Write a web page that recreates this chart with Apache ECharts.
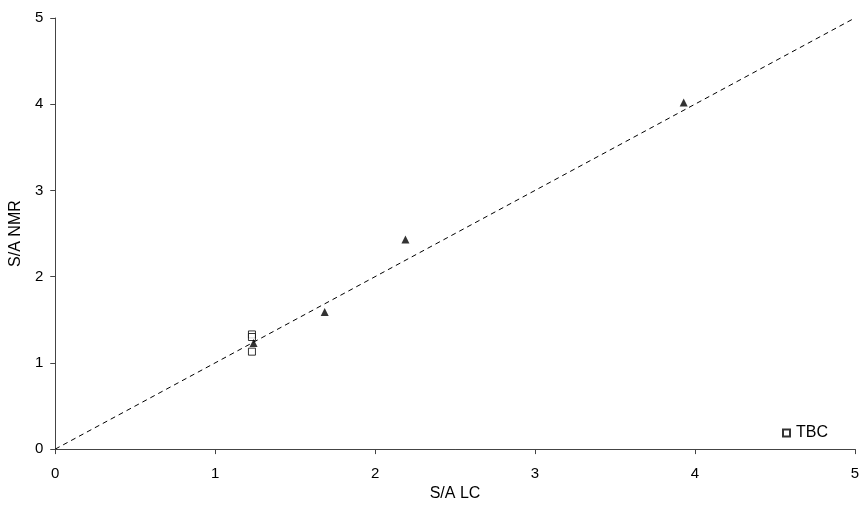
<!DOCTYPE html>
<html>
<head>
<meta charset="utf-8">
<script src="https://cdn.jsdelivr.net/npm/echarts@6/dist/echarts.min.js"></script>
<style>html,body{margin:0;padding:0;background:#fff}#c{width:862px;height:507px}</style>
</head>
<body>
<div id="c"></div>
<script>
var xTicks = [0, 1, 2, 3, 4, 5];
var yTicks = [0, 1, 2, 3, 4, 5];
var tbcX = [1.23, 1.23, 1.23];
var tbcY = [1.33, 1.30, 1.13];
var triX = [1.24, 1.685, 2.19, 3.93];
var triY = [1.23, 1.59, 2.43, 4.02];
var lineX = [0, 5];
var lineY = [0, 5];

function pairs(a, b) { return a.map(function (v, i) { return [v, b[i]]; }); }

var chart = echarts.init(document.getElementById('c'));
var font = 'Liberation Sans, Arial, sans-serif';
chart.setOption({
  animation: false,
  backgroundColor: '#fff',
  grid: { left: 54, right: 5, top: 18, bottom: 47, containLabel: false },
  legend: {
    data: [{ name: 'TBC', icon: 'rect' }],
    left: 777, top: 420,
    itemWidth: 7, itemHeight: 7, itemGap: 5,
    textStyle: { fontFamily: font, fontSize: 16, color: '#000', padding: [0, 0, 0, 1] }
  },
  xAxis: {
    type: 'value', min: xTicks[0], max: xTicks[xTicks.length - 1], interval: 1,
    name: 'S/A LC', nameLocation: 'middle', nameGap: 32,
    nameTextStyle: { fontFamily: font, fontSize: 16, color: '#000' },
    axisLine: { lineStyle: { color: '#444', width: 1 } },
    axisTick: { show: true, inside: false, length: 5, lineStyle: { color: '#444' } },
    axisLabel: { fontFamily: font, fontSize: 15, color: '#000', margin: 17 },
    splitLine: { show: false }
  },
  yAxis: {
    type: 'value', min: yTicks[0], max: yTicks[yTicks.length - 1], interval: 1,
    name: 'S/A NMR', nameLocation: 'middle', nameGap: 31, nameRotate: 90,
    nameTextStyle: { fontFamily: font, fontSize: 16, color: '#000' },
    axisLine: { show: true, lineStyle: { color: '#444', width: 1 } },
    axisTick: { show: true, inside: false, length: 5, lineStyle: { color: '#444' } },
    axisLabel: { fontFamily: font, fontSize: 15, color: '#000', margin: 12 },
    splitLine: { show: false }
  },
  series: [
    {
      name: 'fit', type: 'line', data: pairs(lineX, lineY), symbol: 'none',
      lineStyle: { color: '#000', width: 1, type: [5, 4] }, z: 1, silent: true
    },
    {
      name: 'TBC', type: 'scatter', data: pairs(tbcX, tbcY), symbol: 'rect', symbolSize: 7,
      itemStyle: { color: '#fff', borderColor: '#000', borderWidth: 1 }, z: 3
    },
    {
      name: 'tri', type: 'scatter', data: pairs(triX, triY), symbol: 'triangle', symbolSize: 8,
      itemStyle: { color: '#000' }, z: 4
    }
  ]
});
</script>
</body>
</html>
